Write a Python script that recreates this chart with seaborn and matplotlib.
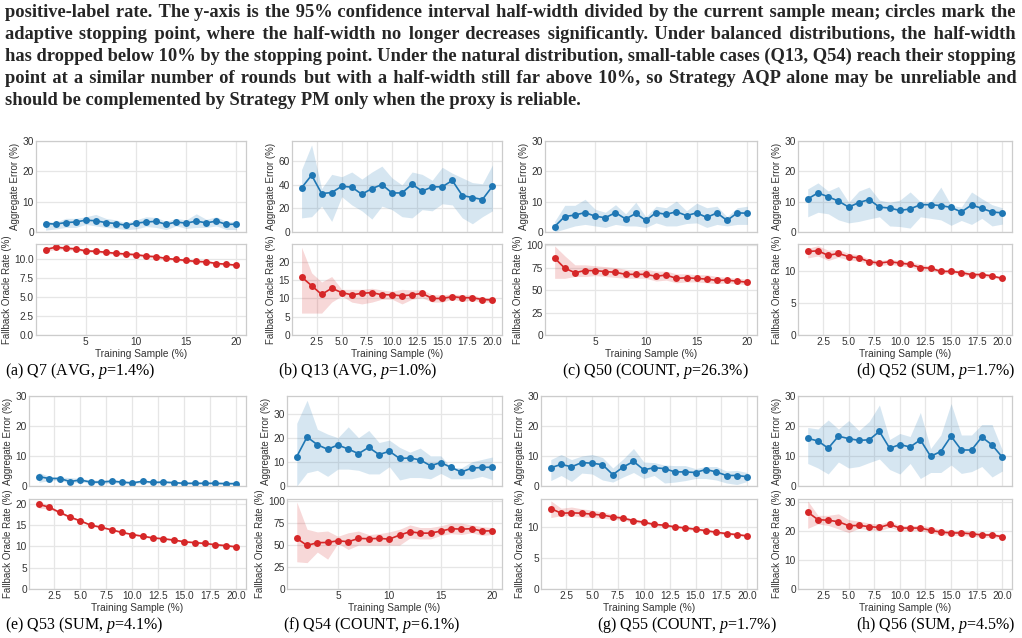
import matplotlib
matplotlib.use("Agg")
import matplotlib.pyplot as plt
import seaborn as sns
from matplotlib.ticker import MultipleLocator, MaxNLocator

# 训练样本比例 (%)
rounds = list(range(1, 21))

# ---- (a) Q7 ----
q7_err = [2.8, 2.6, 3.1, 3.3, 3.9, 3.7, 3.1, 2.8, 2.2, 2.9, 3.3, 3.5, 2.5, 3.3, 2.9, 3.6, 3.0, 3.6, 2.5, 2.6]
q7_err_lo = [0.6, 1.0, 1.5, 1.5, 2.5, 2.0, 1.5, 1.2, 0.8, 1.0, 1.8, 1.5, 0.8, 2.0, 1.2, 1.5, 1.5, 2.0, 0.8, 0.8]
q7_err_hi = [3.5, 3.2, 4.5, 4.5, 5.0, 5.8, 4.5, 4.0, 3.0, 4.0, 5.0, 4.8, 3.5, 4.5, 4.0, 6.0, 4.2, 5.0, 3.5, 3.5]
q7_fb = [11.25, 11.57, 11.43, 11.35, 11.08, 11.03, 10.9, 10.76, 10.67, 10.58, 10.4, 10.31, 10.09, 9.96, 9.82, 9.69, 9.64, 9.42, 9.33, 9.19]
q7_fb_lo = [10.95, 11.3, 11.2, 11.15, 10.9, 10.85, 10.72, 10.58, 10.5, 10.4, 10.22, 10.13, 9.92, 9.8, 9.66, 9.53, 9.48, 9.27, 9.18, 9.04]
q7_fb_hi = [11.55, 11.85, 11.66, 11.55, 11.26, 11.21, 11.08, 10.94, 10.84, 10.76, 10.58, 10.49, 10.26, 10.12, 9.98, 9.85, 9.8, 9.57, 9.48, 9.34]

# ---- (b) Q13 ----
q13_err = [37.5, 48.3, 32.7, 33.5, 38.9, 38.1, 32.1, 36.9, 40.3, 33.2, 33.2, 40.6, 34.7, 38.4, 38.4, 43.8, 31.0, 29.3, 27.6, 38.9]
q13_err_lo = [12, 13, 22, 9, 30, 23, 18, 11, 22, 19, 13, 12, 19, 18, 24, 23, 12, 7, 13, 18]
q13_err_hi = [53, 74, 37, 49, 47, 51, 45, 51, 56, 46, 40, 51, 49, 44, 55, 50, 46, 42, 41, 57]
q13_fb = [15.9, 13.5, 11.1, 12.8, 11.6, 11.0, 11.4, 11.6, 11.0, 11.0, 10.7, 11.0, 11.4, 10.0, 10.0, 10.5, 10.2, 10.2, 9.7, 9.6]
q13_fb_lo = [6.0, 6.0, 6.0, 9.0, 10.7, 9.0, 8.5, 9.0, 9.8, 9.8, 8.5, 9.8, 10.2, 9.0, 9.0, 9.8, 9.2, 9.5, 9.0, 9.0]
q13_fb_hi = [24.0, 17.0, 14.5, 16.0, 12.5, 12.5, 12.5, 12.8, 12.3, 12.0, 12.5, 12.3, 12.4, 11.0, 11.0, 11.2, 11.0, 11.0, 10.2, 10.2]

# ---- (c) Q50 ----
q50_err = [1.8, 5.1, 5.6, 6.4, 5.2, 4.7, 6.4, 4.3, 6.1, 3.8, 6.4, 5.8, 6.7, 5.4, 6.3, 4.8, 6.3, 3.8, 6.3, 6.2]
q50_err_lo = [0.0, 1.0, 2.0, 2.5, 2.0, 1.5, 2.5, 2.0, 2.0, 1.5, 3.0, 2.0, 2.0, 2.8, 3.0, 1.5, 2.5, 2.0, 2.5, 2.5]
q50_err_hi = [3.5, 8.8, 8.8, 10.8, 7.5, 6.5, 9.0, 6.0, 9.8, 5.0, 8.5, 8.0, 10.2, 7.0, 9.5, 8.0, 8.5, 5.0, 8.0, 8.5]
q50_fb = [85.6, 74.2, 69.3, 71.6, 71.6, 70.5, 69.7, 67.4, 67.4, 67.4, 65.2, 66.7, 62.9, 63.6, 62.9, 62.1, 60.6, 61.0, 59.8, 58.7]
q50_fb_lo = [63, 63, 65, 65, 66, 65, 64, 63, 63, 63, 60, 61, 58, 59, 59, 58, 57, 58, 57, 56]
q50_fb_hi = [99, 88, 78, 78, 77, 76, 75, 73, 72, 73, 71, 71, 68, 68, 67, 67, 65, 64, 63, 62]

# ---- (d) Q52 ----
q52_err = [10.9, 12.9, 11.6, 10.2, 8.2, 9.7, 10.7, 8.2, 7.9, 7.1, 7.6, 9.0, 9.0, 8.7, 8.1, 6.6, 8.9, 7.8, 6.6, 6.3]
q52_err_lo = [5.0, 6.5, 6.0, 4.0, 3.0, 3.5, 4.3, 5.0, 2.0, 1.8, 1.3, 5.0, 4.5, 4.0, 2.2, 3.8, 2.5, 4.5, 2.0, 2.6]
q52_err_hi = [14.2, 16.2, 13.5, 15.0, 9.8, 13.5, 14.8, 10.5, 9.8, 10.5, 13.2, 10.0, 10.0, 14.8, 8.8, 8.2, 13.2, 11.0, 9.0, 8.0]
q52_fb = [13.0, 13.1, 12.4, 12.7, 12.2, 12.0, 11.4, 11.2, 11.4, 11.2, 11.0, 10.5, 10.4, 9.9, 9.9, 9.7, 9.4, 9.4, 9.2, 8.8]
q52_fb_lo = [12.0, 12.3, 11.6, 12.1, 11.7, 11.5, 11.1, 10.8, 11.0, 10.8, 10.6, 10.1, 10.1, 9.6, 9.6, 9.4, 9.1, 9.1, 8.9, 8.6]
q52_fb_hi = [13.5, 13.9, 13.2, 13.3, 12.7, 12.5, 11.8, 11.6, 11.8, 11.6, 11.4, 11.0, 10.7, 10.2, 10.2, 10.0, 9.7, 9.7, 9.4, 9.0]

# ---- (e) Q53 ----
q53_err = [3.1, 2.5, 2.5, 1.5, 2.0, 1.3, 1.3, 1.6, 1.3, 1.0, 1.6, 1.2, 1.3, 1.1, 0.9, 0.9, 0.9, 0.9, 0.8, 0.8]
q53_err_lo = [1.2, 1.8, 2.0, 0.8, 1.4, 0.8, 0.8, 1.0, 0.9, 0.6, 1.1, 0.8, 0.9, 0.8, 0.6, 0.6, 0.6, 0.6, 0.5, 0.5]
q53_err_hi = [4.5, 3.2, 3.0, 2.8, 2.5, 2.0, 2.0, 2.2, 1.8, 1.6, 2.0, 1.6, 1.8, 1.5, 1.3, 1.3, 1.2, 1.2, 1.1, 1.1]
q53_fb = [19.9, 19.2, 18.0, 16.9, 16.0, 15.0, 14.5, 13.9, 13.3, 12.8, 12.4, 12.0, 11.8, 11.5, 11.1, 10.9, 10.7, 10.4, 10.2, 9.9]
q53_fb_lo = [19.0, 18.8, 17.7, 16.6, 15.8, 14.8, 14.3, 13.7, 13.1, 12.6, 12.2, 11.8, 11.6, 11.3, 10.9, 10.7, 10.5, 10.2, 10.0, 9.7]
q53_fb_hi = [20.6, 19.6, 18.3, 17.2, 16.2, 15.2, 14.7, 14.1, 13.5, 13.0, 12.6, 12.2, 12.0, 11.7, 11.3, 11.1, 10.9, 10.6, 10.4, 10.1]

# ---- (f) Q54 ----
q54_err = [12.2, 20.3, 17.1, 15.2, 17.0, 15.3, 13.4, 16.0, 13.0, 14.4, 11.4, 11.6, 10.8, 8.4, 9.7, 7.7, 5.8, 7.4, 7.7, 7.8]
q54_err_lo = [0.0, 5.5, 6.5, 4.0, 7.0, 7.0, 6.5, 5.0, 5.0, 8.0, 2.5, 3.5, 3.5, 3.0, 5.2, 3.0, 3.0, 3.0, 4.0, 2.7]
q54_err_hi = [26.0, 35.5, 23.5, 21.5, 20.0, 24.5, 20.0, 23.0, 18.0, 19.0, 16.0, 14.0, 15.7, 12.5, 12.5, 7.7, 7.5, 10.0, 11.0, 12.0]
q54_fb = [57.6, 49.6, 52.7, 53.0, 54.9, 53.8, 57.6, 57.2, 57.6, 56.8, 61.4, 65.2, 63.6, 63.6, 65.9, 68.6, 68.2, 68.6, 65.9, 66.3]
q54_fb_lo = [31, 30, 42, 34, 52, 45, 50, 50, 50, 50, 50, 58, 57, 57, 61, 63, 62, 64, 61, 62]
q54_fb_hi = [99, 68, 65, 66, 60, 64, 66, 62, 63, 65, 68, 73, 70, 70, 72, 75, 75, 73, 71, 70]

# ---- (g) Q55 ----
q55_err = [6.1, 7.2, 6.4, 7.8, 7.6, 7.1, 3.8, 6.3, 8.2, 5.4, 6.1, 5.8, 4.7, 4.7, 4.5, 5.5, 4.7, 3.5, 3.5, 3.1]
q55_err_lo = [1.8, 3.5, 1.5, 4.3, 4.0, 2.0, 1.3, 3.0, 4.5, 2.5, 3.5, 1.0, 1.3, 1.8, 2.5, 2.5, 2.0, 1.0, 0.5, 1.5]
q55_err_hi = [8.8, 10.5, 8.8, 10.0, 10.5, 9.5, 6.0, 9.0, 12.5, 8.0, 7.8, 7.0, 6.8, 6.8, 5.8, 6.5, 6.5, 5.0, 5.2, 4.5]
q55_fb = [12.96, 12.2, 12.26, 12.2, 12.04, 11.9, 11.6, 11.4, 11.0, 10.75, 10.4, 10.27, 10.0, 9.84, 9.62, 9.4, 9.14, 8.92, 8.76, 8.55]
q55_fb_lo = [11.5, 11.8, 11.8, 11.6, 11.5, 11.4, 11.2, 11.1, 10.7, 10.5, 10.2, 10.0, 9.8, 9.6, 9.4, 9.2, 8.9, 8.7, 8.6, 8.4]
q55_fb_hi = [14.2, 13.0, 13.2, 12.9, 12.7, 12.4, 12.0, 11.7, 11.3, 11.0, 10.6, 10.5, 10.2, 10.0, 9.8, 9.6, 9.3, 9.1, 8.9, 8.7]

# ---- (h) Q56 ----
q56_err = [15.9, 15.0, 12.6, 16.6, 15.8, 15.2, 15.4, 18.2, 12.6, 13.8, 13.0, 15.4, 9.9, 11.5, 16.6, 12.0, 12.0, 16.3, 13.7, 9.6]
q56_err_lo = [7.5, 6.0, 4.0, 8.0, 6.0, 6.5, 7.8, 9.0, 5.5, 4.0, 7.5, 2.5, 4.5, 4.5, 7.0, 4.2, 4.8, 6.5, 3.0, 5.0]
q56_err_hi = [19.5, 19.0, 22.0, 19.0, 21.8, 18.5, 21.5, 27.0, 15.5, 17.5, 16.5, 24.5, 12.5, 17.0, 27.5, 17.0, 17.0, 20.5, 20.5, 12.0]
q56_fb = [26.6, 24.0, 23.8, 23.3, 21.9, 22.0, 21.6, 21.3, 22.4, 21.1, 21.1, 21.1, 20.3, 19.7, 19.4, 19.4, 19.1, 18.7, 18.7, 18.1]
q56_fb_lo = [21.0, 22.5, 22.0, 20.8, 19.5, 21.0, 20.5, 20.2, 21.3, 20.3, 20.3, 20.3, 19.3, 18.8, 18.6, 18.5, 18.3, 17.9, 17.9, 17.4]
q56_fb_hi = [30.5, 25.5, 25.5, 26.0, 24.0, 23.5, 22.8, 22.5, 23.5, 22.0, 22.0, 22.0, 21.5, 20.5, 20.3, 20.3, 20.0, 19.5, 19.3, 18.8]

# 子图标题
sub_tags = ["(a)", "(b)", "(c)", "(d)", "(e)", "(f)", "(g)", "(h)"]
queries = ["Q7", "Q13", "Q50", "Q52", "Q53", "Q54", "Q55", "Q56"]
aggs = ["AVG", "AVG", "COUNT", "SUM", "SUM", "COUNT", "COUNT", "SUM"]
p_rates = ["1.4", "1.0", "26.3", "1.7", "4.1", "6.1", "1.7", "4.5"]

series = [
    (q7_err, q7_err_lo, q7_err_hi, q7_fb, q7_fb_lo, q7_fb_hi),
    (q13_err, q13_err_lo, q13_err_hi, q13_fb, q13_fb_lo, q13_fb_hi),
    (q50_err, q50_err_lo, q50_err_hi, q50_fb, q50_fb_lo, q50_fb_hi),
    (q52_err, q52_err_lo, q52_err_hi, q52_fb, q52_fb_lo, q52_fb_hi),
    (q53_err, q53_err_lo, q53_err_hi, q53_fb, q53_fb_lo, q53_fb_hi),
    (q54_err, q54_err_lo, q54_err_hi, q54_fb, q54_fb_lo, q54_fb_hi),
    (q55_err, q55_err_lo, q55_err_hi, q55_fb, q55_fb_lo, q55_fb_hi),
    (q56_err, q56_err_lo, q56_err_hi, q56_fb, q56_fb_lo, q56_fb_hi),
]

caption_lines = [
    "positive-label rate. The y-axis is the 95% confidence interval half-width divided by the current sample mean; circles mark the",
    "adaptive stopping point, where the half-width no longer decreases significantly. Under balanced distributions, the half-width",
    "has dropped below 10% by the stopping point. Under the natural distribution, small-table cases (Q13, Q54) reach their stopping",
    "point at a similar number of rounds but with a half-width still far above 10%, so Strategy AQP alone may be unreliable and",
    "should be complemented by Strategy PM only when the proxy is reliable.",
]

# ---- 布局 (像素) ----
W, H = 1022, 638
ax_lr = [(36, 246), (292, 502), (545, 757), (798, 1012),
         (29, 246), (287, 502), (541, 757), (798, 1012)]
row_y = [(141, 232, 244, 335), (396, 486, 499, 589)]
x_steps = [5, 2.5, 5, 2.5, 2.5, 5, 2.5, 2.5]
cap_pos = [(5, "left"), (278, "left"), (562, "left"), (1015, "right"),
           (5, "left"), (283, "left"), (597, "left"), (1015, "right")]
cap_y = [371, 625]

BLUE = "#1f77b4"
RED = "#d62728"

sns.set_theme(style="whitegrid")
plt.rcParams.update({
    "axes.edgecolor": "#cccccc",
    "axes.linewidth": 0.9,
    "grid.color": "#e6e6e6",
    "grid.linewidth": 0.9,
    "xtick.labelsize": 7.3,
    "ytick.labelsize": 7.3,
    "xtick.color": "#333333",
    "ytick.color": "#333333",
    "xtick.major.pad": 1.5,
    "ytick.major.pad": 1.5,
    "axes.labelcolor": "#333333",
    "mathtext.fontset": "custom",
    "mathtext.rm": "Liberation Serif",
    "mathtext.it": "Liberation Serif:italic",
})
plt.rcParams["font.family"] = ["Liberation Sans", "DejaVu Sans"]

fig = plt.figure(figsize=(W / 100, H / 100), dpi=100)


def add_ax(l, r, t, b):
    return fig.add_axes([l / W, 1 - b / H, (r - l) / W, (b - t) / H])


def draw(ax, y, lo, hi, color):
    ax.fill_between(rounds, lo, hi, color=color, alpha=0.18, linewidth=0)
    sns.lineplot(x=rounds, y=y, ax=ax, color=color, marker="o", markersize=5,
                 linewidth=1.2, markeredgewidth=0, errorbar=None)


for i, (err, err_lo, err_hi, fb, fb_lo, fb_hi) in enumerate(series):
    l, r = ax_lr[i]
    t1, b1, t2, b2 = row_y[i // 4]
    ax1 = add_ax(l, r, t1, b1)
    ax2 = add_ax(l, r, t2, b2)
    ax1.sharex(ax2)

    draw(ax1, err, err_lo, err_hi, BLUE)
    draw(ax2, fb, fb_lo, fb_hi, RED)

    top = ax1.get_ylim()[1]
    ax1.set_ylim(0, max(30, top))
    ax2.set_ylim(bottom=0)
    for ax in (ax1, ax2):
        ax.yaxis.set_major_locator(MaxNLocator(nbins=5, steps=[1, 2, 2.5, 5, 10]))
        ax.xaxis.set_major_locator(MultipleLocator(x_steps[i]))
        ax.tick_params(length=0)
    ax1.tick_params(labelbottom=False)
    ax1.set_xlabel("")
    ax1.set_ylabel("Aggregate Error (%)", fontsize=7, labelpad=2)
    ax2.set_ylabel("Fallback Oracle Rate (%)", fontsize=7, labelpad=2)
    ax2.set_xlabel("Training Sample (%)", fontsize=7.3, labelpad=1.5)

    cx, ha = cap_pos[i]
    fig.text(cx / W, 1 - cap_y[i // 4] / H,
             f"{sub_tags[i]} {queries[i]} ({aggs[i]}, $p$={p_rates[i]}%)",
             ha=ha, va="center", fontsize=11.5, family="Liberation Serif", color="black")

# ---- 顶部说明文字 (两端对齐: 用细空格补足每个词间距) ----
renderer = fig.canvas.get_renderer()
x0, x1 = 5, 1015
fs = 13.3
fam = ["Liberation Serif", "DejaVu Serif"]


def text_w(s):
    t = fig.text(0, 0, s, fontsize=fs, fontweight="bold", family=fam)
    w = t.get_window_extent(renderer).width
    t.remove()
    return w


HAIR = "\u200a"
hair_w = text_w("a" + HAIR * 10 + "a") / 10 - text_w("aa") / 10

for k, line in enumerate(caption_lines):
    yb = 1 - (17 + 22 * k) / H
    words = line.split(" ")
    s = line
    if k < len(caption_lines) - 1 and hair_w > 0.05:
        extra = (x1 - x0 - text_w(line)) / (len(words) - 1)
        parts = [words[0]]
        used = 0
        for j, w in enumerate(words[1:], start=1):
            n = int(round(extra * j / hair_w)) - used
            used += n
            parts.append(" " + HAIR * max(n, 0) + w)
        s = "".join(parts)
    fig.text(x0 / W, yb, s, fontsize=fs, fontweight="bold", family=fam,
             va="baseline", ha="left")

fig.savefig("out.png", dpi=100)
